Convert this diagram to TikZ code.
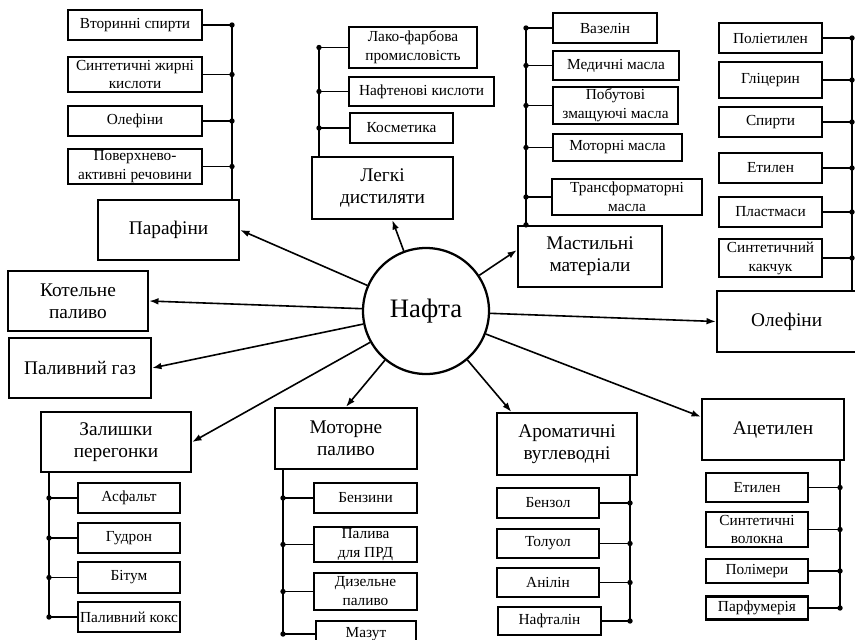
\documentclass[tikz,border=0pt]{standalone}
\usepackage{fontspec}
\setmainfont{Liberation Serif}
\usetikzlibrary{arrows.meta}

\tikzset{every picture/.style={line width=0.75pt}}

\begin{document}
\begin{tikzpicture}[x=0.75pt,y=0.75pt,yscale=-1,xscale=1,
    wh/.style 2 args={minimum width=#1*0.75pt,minimum height=#2*0.75pt},
    box/.style={draw,line width=1.7pt,rectangle,align=center,inner sep=0pt},
    bigbox/.style={box,font=\fontsize{14.5}{16.5}\selectfont},
    smallbox/.style={box,font=\fontsize{11.5}{14.2}\selectfont},
    arr/.style={line width=1.2pt,-{Latex[length=7pt,width=5pt]}},
    bus/.style={line width=1.2pt}]
    \useasboundingbox (0,0) rectangle (855,639);
    \clip (0,0) rectangle (855,639);

    %Shape: Circle
    \node[draw,circle,line width=1.7pt,inner sep=0pt,minimum size=94.5pt,font=\fontsize{20}{24}\selectfont] (nafta) at (426,311) {Нафта};

    %Парафіни
    \node[bigbox,wh={141}{60}] (paraf) at (168.5,230) {Парафіни};
    \node[smallbox,wh={134}{30}] (vtor) at (135,25) {Вторинні спирти};
    \node[smallbox,wh={134}{35}] (zhyrni) at (135,74.5) {Синтетичні жирні\\кислоти};
    \node[smallbox,wh={134}{30}] (olefp) at (135,121) {Олефіни};
    \node[smallbox,wh={134}{35}] (poverkh) at (135,166.5) {Поверхнево-\\активні речовини};
    \coordinate (parbus) at (232,0);
    \draw[bus] (vtor -| parbus) -- (parbus |- paraf.north);
    \draw[bus] (vtor.east) -- (vtor -| parbus); \fill (vtor -| parbus) circle (2.7);
    \draw[bus] (zhyrni.east) -- (zhyrni -| parbus); \fill (zhyrni -| parbus) circle (2.7);
    \draw[bus] (olefp.east) -- (olefp -| parbus); \fill (olefp -| parbus) circle (2.7);
    \draw[bus] (poverkh.east) -- (poverkh -| parbus); \fill (poverkh -| parbus) circle (2.7);

    %Легкі дистиляти
    \node[bigbox,wh={141}{62}] (legki) at (382.5,188) {Легкі\\дистиляти};
    \node[smallbox,wh={128}{41}] (lako) at (413,47.5) {Лако-фарбова\\промисловість};
    \node[smallbox,wh={145}{29}] (naften) at (421.5,91.5) {Нафтенові кислоти};
    \node[smallbox,wh={103}{30}] (kosm) at (401.5,128) {Косметика};
    \coordinate (legbus) at (319,0);
    \draw[bus] (lako -| legbus) -- (legbus |- legki.north);
    \draw[bus] (lako.west) -- (lako -| legbus); \fill (lako -| legbus) circle (2.7);
    \draw[bus] (naften.west) -- (naften -| legbus); \fill (naften -| legbus) circle (2.7);
    \draw[bus] (kosm.west) -- (kosm -| legbus); \fill (kosm -| legbus) circle (2.7);

    %Мастильні матеріали
    \node[bigbox,wh={144}{61}] (mast) at (590,256.5) {Мастильні\\матеріали};
    \node[smallbox,wh={104}{30}] (vaz) at (605,28) {Вазелін};
    \node[smallbox,wh={126}{29}] (med) at (616,65.5) {Медичні масла};
    \node[smallbox,wh={125}{37}] (pobut) at (615.5,105.5) {Побутові\\змащуючі масла};
    \node[smallbox,wh={129}{27}] (motm) at (617.5,147.5) {Моторні масла};
    \node[smallbox,wh={150}{36}] (trans) at (627,197) {Трансформаторні\\масла};
    \coordinate (mastbus) at (526,0);
    \draw[bus] (vaz -| mastbus) -- (mastbus |- mast.north); \fill (mastbus |- mast.north) circle (2.7);
    \draw[bus] (vaz.west) -- (vaz -| mastbus); \fill (vaz -| mastbus) circle (2.7);
    \draw[bus] (med.west) -- (med -| mastbus); \fill (med -| mastbus) circle (2.7);
    \draw[bus] (pobut.west) -- (pobut -| mastbus); \fill (pobut -| mastbus) circle (2.7);
    \draw[bus] (motm.west) -- (motm -| mastbus); \fill (motm -| mastbus) circle (2.7);
    \draw[bus] (trans.west) -- (trans -| mastbus); \fill (trans -| mastbus) circle (2.7);

    %Олефіни
    \node[bigbox,wh={150}{61}] (olef) at (792,321.5) {\hspace*{-8pt}Олефіни};
    \node[smallbox,wh={103}{30}] (poliet) at (770.5,38) {Поліетилен};
    \node[smallbox,wh={103}{36}] (glits) at (770.5,80) {Гліцерин};
    \node[smallbox,wh={103}{30}] (spyrt) at (770.5,122) {Спирти};
    \node[smallbox,wh={103}{30}] (etyl) at (770.5,168) {Етилен};
    \node[smallbox,wh={103}{30}] (plast) at (770.5,212) {Пластмаси};
    \node[smallbox,wh={103}{38}] (kauch) at (770.5,258) {Синтетичний\\какчук};
    \coordinate (olefbus) at (852,0);
    \draw[bus] (poliet -| olefbus) -- (olefbus |- olef.north);
    \draw[bus] (poliet.east) -- (poliet -| olefbus); \fill (poliet -| olefbus) circle (2.7);
    \draw[bus] (glits.east) -- (glits -| olefbus); \fill (glits -| olefbus) circle (2.7);
    \draw[bus] (spyrt.east) -- (spyrt -| olefbus); \fill (spyrt -| olefbus) circle (2.7);
    \draw[bus] (etyl.east) -- (etyl -| olefbus); \fill (etyl -| olefbus) circle (2.7);
    \draw[bus] (plast.east) -- (plast -| olefbus); \fill (plast -| olefbus) circle (2.7);
    \draw[bus] (kauch.east) -- (kauch -| olefbus); \fill (kauch -| olefbus) circle (2.7);

    %Котельне паливо, Паливний газ
    \node[bigbox,wh={140}{60}] (kotel) at (78,301) {Котельне\\паливо};
    \node[bigbox,wh={142}{60}] (gaz) at (80,368) {Паливний газ};

    %Залишки перегонки
    \node[bigbox,wh={150}{60}] (zalysh) at (116,442) {Залишки\\перегонки};
    \node[smallbox,wh={102}{30}] (asf) at (129,498) {Асфальт};
    \node[smallbox,wh={102}{30}] (gudr) at (129,538) {Гудрон};
    \node[smallbox,wh={102}{31}] (bit) at (129,577.5) {Бітум};
    \node[smallbox,wh={102}{30}] (koks) at (129,617) {Паливний кокс};
    \coordinate (zalbus) at (49,0);
    \draw[bus] (zalbus |- zalysh.south) -- (koks -| zalbus);
    \draw[bus] (asf.west) -- (asf -| zalbus); \fill (asf -| zalbus) circle (2.7);
    \draw[bus] (gudr.west) -- (gudr -| zalbus); \fill (gudr -| zalbus) circle (2.7);
    \draw[bus] (bit.west) -- (bit -| zalbus); \fill (bit -| zalbus) circle (2.7);
    \draw[bus] (koks.west) -- (koks -| zalbus); \fill (koks -| zalbus) circle (2.7);

    %Моторне паливо
    \node[bigbox,wh={142}{61}] (motor) at (346,438.5) {Моторне\\паливо};
    \node[smallbox,wh={103}{30}] (benz) at (365.5,498) {Бензини};
    \node[smallbox,wh={103}{35}] (prd) at (365.5,544.5) {Палива\\для ПРД};
    \node[smallbox,wh={103}{37}] (diz) at (365.5,591.5) {Дизельне\\паливо};
    \node[smallbox,wh={100}{26}] (mazut) at (366,634) {Мазут};
    \coordinate (motbus) at (283,0);
    \draw[bus] (motbus |- motor.south) -- (mazut -| motbus);
    \draw[bus] (benz.west) -- (benz -| motbus); \fill (benz -| motbus) circle (2.7);
    \draw[bus] (prd.west) -- (prd -| motbus); \fill (prd -| motbus) circle (2.7);
    \draw[bus] (diz.west) -- (diz -| motbus); \fill (diz -| motbus) circle (2.7);
    \draw[bus] (mazut.west) -- (mazut -| motbus); \fill (mazut -| motbus) circle (2.7);

    %Ароматичні вуглеводні
    \node[bigbox,wh={140}{62}] (arom) at (567,444) {Ароматичні\\вуглеводні};
    \node[smallbox,wh={102}{30}] (benzol) at (548,503) {Бензол};
    \node[smallbox,wh={102}{29}] (toluol) at (548,543.5) {Толуол};
    \node[smallbox,wh={102}{29}] (anilin) at (548,582.5) {Анілін};
    \node[smallbox,wh={103}{28}] (naftal) at (549.5,621) {Нафталін};
    \coordinate (arombus) at (630,0);
    \draw[bus] (arombus |- arom.south) -- (naftal -| arombus);
    \draw[bus] (benzol.east) -- (benzol -| arombus); \fill (benzol -| arombus) circle (2.7);
    \draw[bus] (toluol.east) -- (toluol -| arombus); \fill (toluol -| arombus) circle (2.7);
    \draw[bus] (anilin.east) -- (anilin -| arombus); \fill (anilin -| arombus) circle (2.7);
    \draw[bus] (naftal.east) -- (naftal -| arombus); \fill (naftal -| arombus) circle (2.7);

    %Ацетилен
    \node[bigbox,wh={142}{61}] (acet) at (773,429.5) {Ацетилен};
    \node[smallbox,wh={102}{29}] (etyl2) at (757,487.5) {Етилен};
    \node[smallbox,wh={102}{35}] (volok) at (757,529.5) {Синтетичні\\волокна};
    \node[smallbox,wh={102}{24}] (polim) at (757,571) {Полімери};
    \node[smallbox,wh={102}{23}] (parfum) at (757,608) {Парфумерія};
    \coordinate (acetbus) at (840,0);
    \draw[bus] (acetbus |- acet.south) -- (parfum -| acetbus);
    \draw[bus] (etyl2.east) -- (etyl2 -| acetbus); \fill (etyl2 -| acetbus) circle (2.7);
    \draw[bus] (volok.east) -- (volok -| acetbus); \fill (volok -| acetbus) circle (2.7);
    \draw[bus] (polim.east) -- (polim -| acetbus); \fill (polim -| acetbus) circle (2.7);
    \draw[bus] (parfum.east) -- (parfum -| acetbus); \fill (parfum -| acetbus) circle (2.7);

    %Arrows
    \draw[arr] (nafta) -- (paraf.east);
    \draw[arr] (nafta) -- (legki.-73);
    \draw[arr] (nafta) -- (mast.175);
    \draw[arr] (nafta) -- (olef.west);
    \draw[arr] (nafta) -- (kotel.east);
    \draw[arr] (nafta) -- (gaz.east);
    \draw[arr] (nafta) -- (zalysh.east);
    \draw[arr] (nafta) -- (motor.north);
    \draw[arr] (nafta) -- (arom.150);
    \draw[arr] (nafta) -- (acet.170);

\end{tikzpicture}
\end{document}
